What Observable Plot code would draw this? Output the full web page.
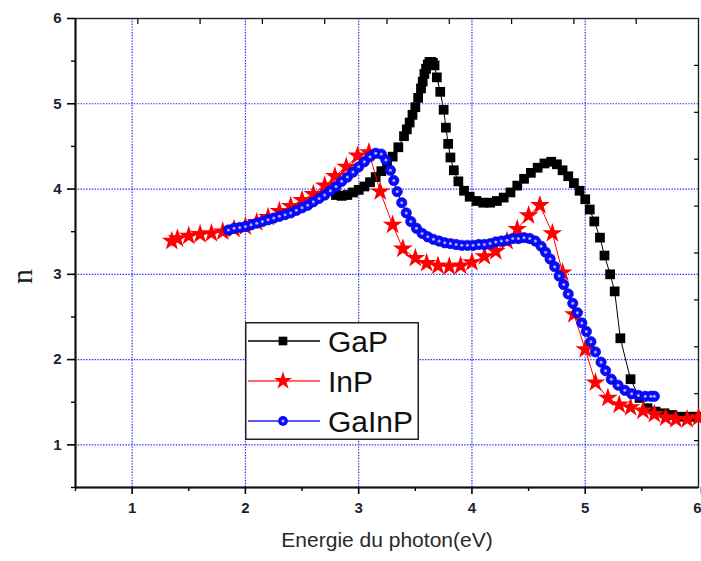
<!DOCTYPE html>
<html>
<head>
<meta charset="utf-8">
<script src="https://cdn.jsdelivr.net/npm/d3@7"></script>
<script src="https://cdn.jsdelivr.net/npm/@observablehq/plot@0.6"></script>
<style>
  body { margin: 0; background: white; }
  #wrap { position: relative; width: 701px; height: 561px; overflow: hidden; }
  #legend { position: absolute; left: 245px; top: 322px; }
</style>
</head>
<body>
<div id="wrap"></div>
<script>
// ---------- data ----------
const seriesNames = ["GaP", "InP", "GaInP"];

const gapE = [2.80,2.85,2.90,2.95,3.00,3.05,3.10,3.15,3.20,3.25,3.30,3.35,3.40,3.425,3.45,3.475,3.50,3.525,3.55,3.565,3.58,3.595,3.61,3.625,3.64,3.655,3.67,3.69,3.72,3.75,3.77,3.79,3.81,3.84,3.88,3.93,3.98,4.04,4.10,4.16,4.22,4.28,4.34,4.40,4.46,4.52,4.58,4.64,4.70,4.75,4.80,4.85,4.90,4.95,5.00,5.04,5.08,5.13,5.17,5.22,5.26,5.31,5.40,5.48,5.55,5.62,5.70,5.77,5.84,5.92,5.99];
const gapN = [3.93,3.92,3.93,3.96,3.99,4.03,4.08,4.14,4.21,4.29,4.38,4.49,4.62,4.70,4.78,4.87,4.96,5.07,5.18,5.26,5.35,5.41,5.46,5.49,5.49,5.48,5.45,5.31,5.14,4.93,4.72,4.53,4.37,4.22,4.09,3.98,3.91,3.86,3.84,3.84,3.86,3.90,3.96,4.04,4.12,4.19,4.25,4.30,4.32,4.29,4.22,4.15,4.07,3.98,3.88,3.76,3.62,3.43,3.22,3.00,2.80,2.25,1.77,1.55,1.43,1.39,1.37,1.35,1.33,1.33,1.33];

const inpE = [1.35,1.40,1.50,1.60,1.70,1.80,1.90,2.00,2.10,2.20,2.30,2.40,2.50,2.60,2.70,2.79,2.89,2.99,3.09,3.19,3.30,3.39,3.50,3.60,3.70,3.80,3.90,4.00,4.11,4.21,4.31,4.40,4.50,4.60,4.71,4.80,4.90,5.00,5.09,5.20,5.30,5.40,5.51,5.61,5.71,5.80,5.90,6.00];
const inpN = [3.39,3.42,3.45,3.47,3.48,3.50,3.53,3.56,3.61,3.67,3.74,3.80,3.87,3.94,4.04,4.15,4.26,4.39,4.43,3.97,3.58,3.30,3.19,3.13,3.10,3.09,3.10,3.14,3.21,3.27,3.39,3.53,3.69,3.81,3.48,3.02,2.53,2.12,1.73,1.55,1.47,1.44,1.40,1.36,1.32,1.30,1.30,1.32];

const gainpE = [1.85,1.90,1.95,2.00,2.05,2.10,2.15,2.20,2.25,2.30,2.35,2.40,2.45,2.50,2.55,2.60,2.65,2.70,2.75,2.80,2.85,2.90,2.95,3.00,3.05,3.10,3.15,3.20,3.24,3.28,3.31,3.34,3.38,3.42,3.46,3.51,3.56,3.61,3.66,3.71,3.76,3.81,3.86,3.91,3.96,4.01,4.06,4.11,4.16,4.21,4.26,4.31,4.36,4.41,4.46,4.51,4.56,4.61,4.65,4.69,4.73,4.77,4.81,4.85,4.89,4.93,4.97,5.01,5.05,5.09,5.14,5.18,5.23,5.29,5.35,5.41,5.47,5.53,5.58,5.61];
const gainpN = [3.52,3.54,3.55,3.56,3.58,3.60,3.62,3.64,3.66,3.68,3.70,3.72,3.75,3.78,3.81,3.85,3.89,3.93,3.98,4.03,4.09,4.14,4.20,4.26,4.32,4.38,4.42,4.41,4.34,4.22,4.10,3.97,3.84,3.72,3.62,3.54,3.48,3.44,3.41,3.39,3.37,3.36,3.35,3.34,3.34,3.34,3.35,3.35,3.36,3.38,3.39,3.40,3.42,3.42,3.43,3.42,3.39,3.33,3.26,3.18,3.09,2.98,2.88,2.77,2.66,2.55,2.43,2.33,2.21,2.09,1.97,1.87,1.77,1.70,1.64,1.60,1.58,1.57,1.57,1.57];

const xTicks = [1, 2, 3, 4, 5];
const xLastTick = [6];
const yTicks = [1, 2, 3, 4, 5, 6];
const xMinor = [0.5, 1.5, 2.5, 3.5, 4.5, 5.5];
const yMinor = [0.5, 1.5, 2.5, 3.5, 4.5, 5.5];
const gridXVals = [1, 2, 3, 4, 5];
const gridYVals = [1, 2, 3, 4, 5];
const mirrorTicks = [1.05, 1.6, 2.15, 2.7, 3.25, 3.8, 4.35, 4.9, 5.45];

const xLabel = "Energie du photon(eV)";
const yLabel = "n";

// ---------- build tables ----------
const gap = gapE.map((e, i) => ({e, n: gapN[i]}));
const inp = inpE.map((e, i) => ({e, n: inpN[i]}));
const gainp = gainpE.map((e, i) => ({e, n: gainpN[i]}));

const colors = {GaP: "#000000", InP: "#ff0000", GaInP: "#0a0aff"};
const labelFill = "#1c1f33";
const tickFont = {fontSize: 15, fontWeight: "bold", fill: labelFill, tickFormat: "d"};

const chart = Plot.plot({
  width: 701,
  height: 561,
  marginLeft: 75,
  marginRight: 3,
  marginTop: 18,
  marginBottom: 74,
  style: {fontFamily: "'Liberation Sans', Arial, sans-serif", background: "white"},
  x: {domain: [0.5, 6]},
  y: {domain: [0.5, 6]},
  marks: [
    Plot.gridX(gridXVals, {stroke: "#2a2aff", strokeOpacity: 1, strokeWidth: 1.2, strokeDasharray: "1.4,1.4"}),
    Plot.gridY(gridYVals, {stroke: "#2a2aff", strokeOpacity: 1, strokeWidth: 1.2, strokeDasharray: "1.4,1.4"}),
    Plot.frame({stroke: "#222", strokeWidth: 1.4}),
    Plot.ruleX([0.5], {stroke: "#111", strokeWidth: 2}),
    Plot.ruleY([0.5], {stroke: "#111", strokeWidth: 2}),
    // major axes
    Plot.axisX(xTicks, {anchor: "bottom", tickSize: 7, tickPadding: 8, label: null, strokeWidth: 1.6, ...tickFont}),
    Plot.axisX(xLastTick, {anchor: "bottom", tickSize: 7, tickPadding: 8, label: null, strokeWidth: 1.6, textAnchor: "end", dx: 3, ...tickFont}),
    Plot.axisY(yTicks, {anchor: "left", tickSize: 8, tickPadding: 6, label: null, strokeWidth: 1.6, ...tickFont}),
    // minor ticks
    Plot.axisX(xMinor, {anchor: "bottom", tickSize: 4, tickFormat: () => "", label: null, strokeWidth: 1.4}),
    Plot.axisY(yMinor, {anchor: "left", tickSize: 4, tickFormat: () => "", label: null, strokeWidth: 1.4}),
    // mirror ticks (top / right, inward)
    Plot.axisX(mirrorTicks, {anchor: "top", tickSize: -5, tickFormat: () => "", label: null, strokeWidth: 1.2}),
    Plot.axisY(mirrorTicks, {anchor: "right", tickSize: -5, tickFormat: () => "", label: null, strokeWidth: 1.2}),
    // axis titles
    Plot.text([xLabel], {frameAnchor: "bottom", dy: 59, fontSize: 21, fill: "#2a2a2a"}),
    Plot.text([yLabel], {frameAnchor: "left", dx: -53, dy: 31, rotate: -90, fontSize: 30, fill: "#1a1a1a", fontFamily: "'Liberation Serif', 'DejaVu Serif', serif"}),
    // GaP
    Plot.line(gap, {x: "e", y: "n", stroke: colors.GaP, strokeWidth: 1}),
    Plot.dot(gap, {x: "e", y: "n", symbol: "square", r: 5.5, fill: colors.GaP, stroke: null}),
    // InP
    Plot.line(inp, {x: "e", y: "n", stroke: colors.InP, strokeWidth: 1}),
    Plot.dot(inp, {x: "e", y: "n", symbol: "star", r: 6.2, fill: colors.InP, stroke: null}),
    // GaInP
    Plot.line(gainp, {x: "e", y: "n", stroke: colors.GaInP, strokeWidth: 1}),
    Plot.dot(gainp, {x: "e", y: "n", symbol: "circle", r: 5.2, fill: colors.GaInP, stroke: "#0000c8", strokeWidth: 0.6}),
    Plot.dot(gainp, {x: "e", y: "n", symbol: "circle", r: 1.5, fill: "#a8b0ff", stroke: null})
  ]
});
document.getElementById("wrap").appendChild(chart);

// ---------- legend ----------
const lw = 174, lh = 118;
const leg = d3.select("#wrap").append("svg")
  .attr("id", "legend")
  .attr("width", lw).attr("height", lh);
leg.append("rect").attr("x", 0.75).attr("y", 0.75).attr("width", lw - 1.5).attr("height", lh - 1.5)
  .attr("fill", "white").attr("stroke", "#222").attr("stroke-width", 1.5);
const legLine = {GaP: "#000", InP: "#ff6a6a", GaInP: "#5a5aff"};
const legSym = {GaP: d3.symbolSquare, InP: d3.symbolStar, GaInP: d3.symbolCircle};
seriesNames.forEach((name, i) => {
  const cy = 19 + i * 40;
  const g = leg.append("g");
  g.append("line").attr("x1", 3).attr("x2", 75).attr("y1", cy).attr("y2", cy)
    .attr("stroke", legLine[name]).attr("stroke-width", name === "GaP" ? 1.4 : 2);
  g.append("path").attr("d", d3.symbol(legSym[name], name === "InP" ? 100 : 75)())
    .attr("transform", `translate(38,${cy})`).attr("fill", colors[name]);
  if (name === "GaInP") {
    g.append("circle").attr("cx", 38).attr("cy", cy).attr("r", 1.6).attr("fill", "#a8b0ff");
  }
  g.append("text").attr("x", 83).attr("y", cy + 10.5).text(name)
    .attr("font-family", "'Liberation Sans', Arial, sans-serif").attr("font-size", 30).attr("fill", "#111");
});
</script>
</body>
</html>
